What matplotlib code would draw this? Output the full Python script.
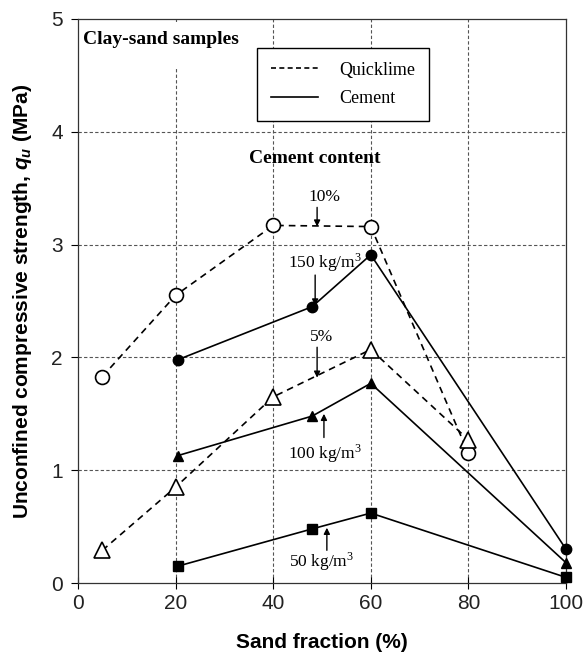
import matplotlib
matplotlib.use("Agg")
import matplotlib.pyplot as plt
from matplotlib.lines import Line2D
from matplotlib.patches import Rectangle

plt.rcParams['mathtext.fontset'] = 'custom'
plt.rcParams['mathtext.it'] = 'Liberation Sans:italic:bold'
plt.rcParams['mathtext.rm'] = 'Liberation Serif'

# Quicklime (dashed, open markers)
ql10_x = [5, 20, 40, 60, 80]
ql10_y = [1.83, 2.55, 3.17, 3.16, 1.15]
ql5_x = [5, 20, 40, 60, 80]
ql5_y = [0.29, 0.85, 1.65, 2.07, 1.27]

# Cement (solid, filled markers)
cem_x = [20.5, 48, 60, 100]
cem150_y = [1.98, 2.45, 2.91, 0.30]
cem100_y = [1.13, 1.48, 1.77, 0.18]
cem50_y = [0.15, 0.48, 0.62, 0.05]

xticks = [0, 20, 40, 60, 80, 100]
yticks = [0, 1, 2, 3, 4, 5]

fig = plt.figure(figsize=(5.85, 6.55), dpi=100)
ax = fig.add_axes([0.1333, 0.1099, 0.8342, 0.8611])

grid_kw = dict(color='#555555', lw=0.8, ls=(0, (3, 2)), zorder=0)
for gx in [20, 40, 60, 80]:
    ax.axvline(gx, **grid_kw)
for gy in [1, 2, 3, 4]:
    ax.axhline(gy, **grid_kw)

# white box behind the title text (hides grid lines)
ax.add_patch(Rectangle((0.005, 0.913), 0.39, 0.082, transform=ax.transAxes,
                       facecolor='white', edgecolor='none', zorder=1))

dash = (0, (4, 3))
ax.plot(ql10_x, ql10_y, color='black', lw=1.2, ls=dash, marker='o', ms=10,
        mfc='white', mec='black', mew=1.2, zorder=3, clip_on=False)
ax.plot(ql5_x, ql5_y, color='black', lw=1.2, ls=dash, marker='^', ms=11,
        mfc='white', mec='black', mew=1.2, zorder=3, clip_on=False)
ax.plot(cem_x, cem150_y, color='black', lw=1.2, marker='o', ms=7.5,
        mfc='black', mec='black', zorder=4, clip_on=False)
ax.plot(cem_x, cem100_y, color='black', lw=1.2, marker='^', ms=7.5,
        mfc='black', mec='black', zorder=4, clip_on=False)
ax.plot(cem_x, cem50_y, color='black', lw=1.2, marker='s', ms=7,
        mfc='black', mec='black', zorder=4, clip_on=False)

ax.set_xlim(0, 100)
ax.set_ylim(0, 5)
ax.set_xticks(xticks)
ax.set_yticks(yticks)
ax.tick_params(axis='both', labelsize=15, length=5, width=0.8, colors='black',
               pad=6)
ax.tick_params(axis='x', direction='inout', length=8, pad=4)
for lab in ax.get_xticklabels() + ax.get_yticklabels():
    lab.set_fontfamily('Liberation Sans')
    lab.set_color('#222222')
for s in ax.spines.values():
    s.set_linewidth(0.9)
    s.set_color('#333333')

ax.set_xlabel('Sand fraction (%)', fontsize=15, fontweight='bold',
              family='Liberation Sans', labelpad=14)
ax.set_ylabel(r'Unconfined compressive strength, $q_u$ (MPa)', fontsize=15,
              fontweight='bold', family='Liberation Sans')
ax.yaxis.set_label_coords(-0.09, 0.5)

serif = 'Liberation Serif'
ax.text(1.0, 4.82, 'Clay-sand samples', fontsize=14, fontweight='bold',
        family=serif, ha='left', va='center', zorder=5)

leg_handles = [Line2D([0], [0], color='black', lw=1.2, ls=(0, (3, 2))),
               Line2D([0], [0], color='black', lw=1.2)]
leg = ax.legend(leg_handles, ['Quicklime', 'Cement'], loc='upper left',
                bbox_to_anchor=(0.367, 0.9486), borderaxespad=0,
                fancybox=False, framealpha=1,
                edgecolor='black', prop=dict(family=serif, size=13),
                handlelength=2.6, borderpad=0.75, labelspacing=0.65,
                handletextpad=1.2)
leg.get_frame().set_linewidth(1.0)
leg.set_zorder(6)

ax.text(48.5, 3.76, 'Cement content', fontsize=14, fontweight='bold',
        family=serif, ha='center', va='center', zorder=5)

arrow = dict(arrowstyle='-|>', color='black', lw=1.0, mutation_scale=9,
             shrinkA=0, shrinkB=0)
txt_kw = dict(fontsize=12.5, family=serif, ha='center', va='center', zorder=5)

# text labels
ax.text(50.6, 3.42, '10%', **txt_kw)
ax.text(50.5, 2.84, '150 kg/m$^3$', **txt_kw)
ax.text(50.0, 2.18, '5%', **txt_kw)
ax.text(50.5, 1.15, '100 kg/m$^3$', **txt_kw)
ax.text(50.0, 0.19, '50 kg/m$^3$', **txt_kw)

# arrows: (x, y_from, y_to)
arr_x = [49.0, 48.6, 49.0, 50.4, 51.0]
arr_from = [3.33, 2.73, 2.09, 1.29, 0.29]
arr_to = [3.16, 2.46, 1.82, 1.50, 0.49]
for xa, y0, y1 in zip(arr_x, arr_from, arr_to):
    ax.annotate('', xy=(xa, y1), xytext=(xa, y0), arrowprops=arrow, zorder=5)

fig.savefig('out.png', dpi=100)
